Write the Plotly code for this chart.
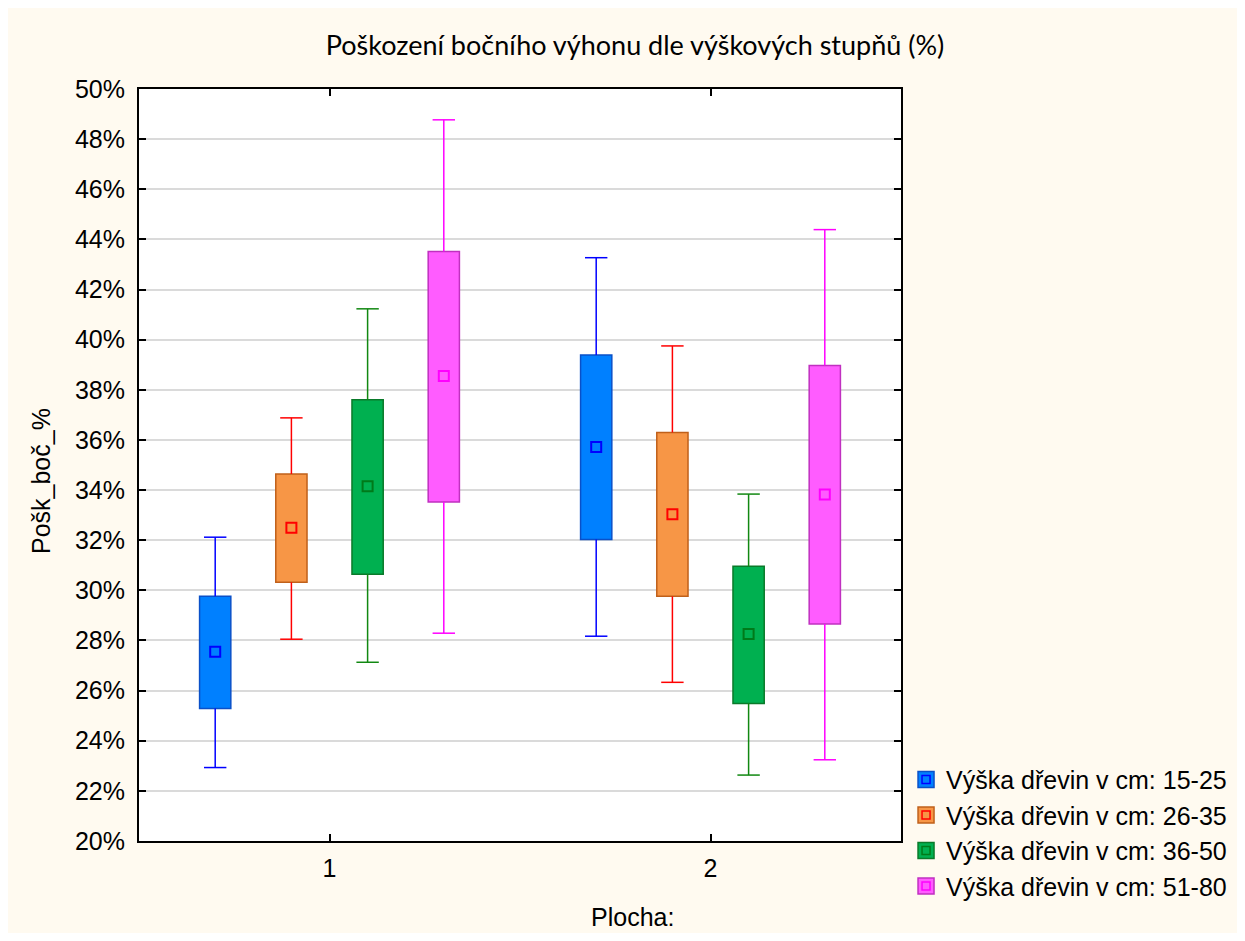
import plotly.graph_objects as go

# ---------------- data ----------------
groups = [1, 2]
group_labels = ["1", "2"]
series_names = [
    "Výška dřevin v cm: 15-25",
    "Výška dřevin v cm: 26-35",
    "Výška dřevin v cm: 36-50",
    "Výška dřevin v cm: 51-80",
]
mean_vals = [
    [27.55, 35.72],
    [32.50, 33.04],
    [34.15, 28.26],
    [38.55, 33.82],
]
box_low = [
    [25.29, 32.03],
    [30.32, 29.76],
    [30.64, 25.49],
    [33.52, 28.66],
]
box_high = [
    [29.76, 39.39],
    [34.64, 36.30],
    [37.60, 30.96],
    [43.52, 38.97],
]
whisk_low = [
    [22.93, 28.17],
    [28.05, 26.33],
    [27.13, 22.63],
    [28.29, 23.24],
]
whisk_high = [
    [32.12, 43.27],
    [36.88, 39.75],
    [41.23, 33.84],
    [48.77, 44.39],
]
y_ticks = list(range(20, 51, 2))
y_tick_labels = [f"{v}%" for v in y_ticks]

# ---------------- style ----------------
offsets = [-0.3, -0.1, 0.1, 0.3]
box_width = 0.082
fill_colors = ["#0080ff", "#f79646", "#00b050", "#ff5cff"]
edge_colors = ["#0a50c8", "#c0601a", "#0a7a2a", "#c030c0"]
line_colors = ["#0000ff", "#ff0000", "#118811", "#ff00ff"]
mean_colors = ["#0000ff", "#ff0000", "#007a1a", "#ff00ff"]
FONT = "Liberation Sans, Arial, sans-serif"
CREAM = "#fffaf0"
W, H = 1237, 925

fig = go.Figure()

for i, name in enumerate(series_names):
    xs = [g + offsets[i] for g in groups]
    # box (mean +/- SE)
    fig.add_trace(go.Bar(
        x=xs, base=box_low[i],
        y=[h - l for h, l in zip(box_high[i], box_low[i])],
        width=box_width,
        marker=dict(color=fill_colors[i], line=dict(color=edge_colors[i], width=1.5)),
        showlegend=False, hoverinfo="skip",
    ))
    # whisker lines
    wx, wy = [], []
    for k in range(len(groups)):
        wx += [xs[k], xs[k], None, xs[k], xs[k], None]
        wy += [box_high[i][k], whisk_high[i][k], None, box_low[i][k], whisk_low[i][k], None]
    fig.add_trace(go.Scatter(
        x=wx, y=wy, mode="lines",
        line=dict(color=line_colors[i], width=1.5),
        showlegend=False, hoverinfo="skip",
    ))
    # whisker caps
    fig.add_trace(go.Scatter(
        x=xs + xs, y=whisk_high[i] + whisk_low[i], mode="markers",
        marker=dict(symbol="line-ew", size=16,
                    line=dict(color=line_colors[i], width=1.5)),
        showlegend=False, hoverinfo="skip",
    ))
    # mean marker
    fig.add_trace(go.Scatter(
        x=xs, y=mean_vals[i], mode="markers",
        marker=dict(symbol="square-open", size=10,
                    color=mean_colors[i], line=dict(width=2, color=mean_colors[i])),
        showlegend=False,
    ))
    # legend entries (outer filled square + inner open square)
    fig.add_trace(go.Scatter(
        x=[None], y=[None], mode="markers", name=name,
        marker=dict(symbol="square", size=16, color=fill_colors[i],
                    line=dict(color=edge_colors[i], width=1.5)),
        legend="legend",
    ))
    fig.add_trace(go.Scatter(
        x=[None], y=[None], mode="markers", name=name,
        marker=dict(symbol="square-open", size=8, color=mean_colors[i],
                    line=dict(width=1.5, color=mean_colors[i])),
        legend="legend2",
    ))

legend_common = dict(
    x=1.0066, y=0.112, xanchor="left", yanchor="top",
    bgcolor="rgba(0,0,0,0)", borderwidth=0,
    tracegroupgap=0, itemclick=False, itemdoubleclick=False,
)
fig.update_layout(
    width=W, height=H,
    margin=dict(l=131, r=W - 893, t=81, b=H - 833),
    paper_bgcolor=CREAM, plot_bgcolor="white",
    barmode="overlay",
    font=dict(family=FONT, size=25, color="black"),
    title=dict(text="Poškození bočního výhonu dle výškových stupňů (%)",
               font=dict(family="Lato, Open Sans, sans-serif", size=27, color="black"),
               x=627 / W, xref="container", xanchor="center",
               y=1 - 38 / H, yref="container", yanchor="middle"),
    xaxis=dict(range=[0.5, 2.5], tickvals=groups, ticktext=group_labels,
               ticks="inside", ticklen=7, tickwidth=1.5, tickcolor="black",
               showline=True, linecolor="black", linewidth=2, mirror="ticks",
               showgrid=False, zeroline=False, ticklabelstandoff=4,
               tickfont=dict(family=FONT, size=25)),
    yaxis=dict(range=[20, 50], tickvals=y_ticks, ticktext=y_tick_labels,
               ticks="inside", ticklen=7, tickwidth=1.5, tickcolor="black",
               showline=True, linecolor="black", linewidth=2, mirror="ticks",
               showgrid=True, gridcolor="#dadada", gridwidth=1.5,
               zeroline=False, ticklabelstandoff=7,
               tickfont=dict(family=FONT, size=25)),
    legend=dict(**legend_common, font=dict(family=FONT, size=25, color="black")),
    legend2=dict(**legend_common, font=dict(family=FONT, size=25, color="rgba(0,0,0,0)")),
    annotations=[
        dict(text="Plocha:", xref="paper", yref="paper", x=0.647, y=-0.101,
             xanchor="center", yanchor="middle", showarrow=False,
             font=dict(family=FONT, size=25, color="black")),
        dict(text="Pošk_boč_%", xref="paper", yref="paper", x=-0.1286, y=0.4787,
             xanchor="center", yanchor="middle", textangle=-90, showarrow=False,
             font=dict(family=FONT, size=25, color="black")),
    ],
)

fig.write_html("out.html")
